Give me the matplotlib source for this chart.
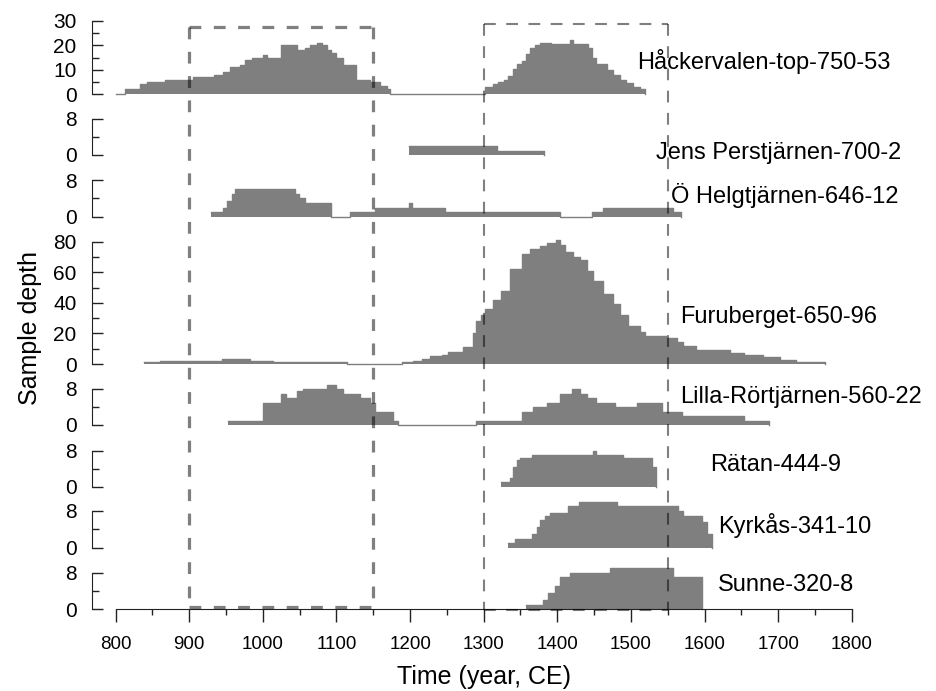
import matplotlib.pyplot as plt
from matplotlib.ticker import MultipleLocator

plt.rcParams['font.family'] = ['Liberation Sans', 'DejaVu Sans']
plt.rcParams['lines.scale_dashes'] = False

# Sample depth per site: step edges (year CE) and depth from that year on
site_names = ['Håckervalen-top-750-53', 'Jens Perstjärnen-700-2', 'Ö Helgtjärnen-646-12',
              'Furuberget-650-96', 'Lilla-Rörtjärnen-560-22', 'Rätan-444-9',
              'Kyrkås-341-10', 'Sunne-320-8']

hack_yr = [800, 812, 833, 842, 867, 905, 933, 946, 955, 969, 976, 985, 1000, 1005, 1025,
           1046, 1057, 1064, 1073, 1080, 1087, 1093, 1100, 1109, 1127, 1145, 1159, 1168,
           1173, 1302, 1313, 1320, 1327, 1333, 1340, 1345, 1352, 1358, 1363, 1370, 1376,
           1392, 1417, 1422, 1442, 1447, 1453, 1467, 1476, 1485, 1494, 1503, 1512, 1519]
hack_val = [0.3, 2, 4, 5, 6, 7, 8, 9, 11, 12, 14, 15, 16, 15, 20, 18, 19, 20, 21, 20, 18,
            17, 15, 12, 6, 5, 3.5, 2, 0, 3, 4, 5, 6, 7.5, 10.5, 12.5, 13.5, 16.5, 19, 20,
            21, 20.5, 22, 20.5, 19, 15, 12.5, 10, 8, 6, 4.5, 3, 2, 0]

jens_yr = [1198, 1318, 1382]
jens_val = [2, 1, 0]

helg_yr = [930, 946, 951, 958, 962, 1044, 1049, 1057, 1093, 1118, 1152, 1198, 1203, 1247,
           1404, 1447, 1462, 1557, 1568]
helg_val = [1, 2, 3.5, 5, 6, 5, 4, 3, 0, 1, 2, 3, 2, 1, 0, 1, 2, 1, 0]

furu_yr = [838, 860, 944, 982, 1014, 1114, 1189, 1204, 1216, 1227, 1243, 1252, 1272, 1286,
           1290, 1297, 1302, 1313, 1324, 1336, 1352, 1363, 1376, 1386, 1398, 1404, 1410,
           1422, 1431, 1440, 1449, 1462, 1476, 1485, 1496, 1512, 1519, 1548, 1562, 1571,
           1589, 1635, 1653, 1680, 1703, 1725, 1764]
furu_val = [1, 2, 3, 2, 1, 0, 1, 2, 3.5, 5, 6, 8, 11, 20, 28, 32, 36, 42, 48, 62, 72, 75,
            77, 79, 81, 78, 73, 70, 68, 61, 54, 46, 39, 32, 25, 21, 18, 17, 14.5, 12, 9,
            7.5, 6, 4.5, 2.5, 1, 0]

lilla_yr = [953, 1000, 1025, 1032, 1046, 1055, 1087, 1100, 1109, 1132, 1145, 1152, 1177,
            1184, 1290, 1352, 1367, 1386, 1404, 1420, 1431, 1440, 1453, 1478, 1508, 1542,
            1569, 1653, 1687]
lilla_val = [1, 5, 7, 6, 7.5, 8, 9, 8, 7, 6, 5, 3, 1, 0, 1, 3, 4, 5, 7, 8, 7, 6, 5, 4, 5,
             3, 2, 1, 0]

ratan_yr = [1324, 1336, 1340, 1345, 1349, 1365, 1449, 1453, 1489, 1528, 1534]
ratan_val = [1, 2, 4.5, 6, 6.5, 7, 8, 7, 6.5, 4.5, 0]

kyrk_yr = [1333, 1342, 1365, 1372, 1376, 1383, 1390, 1415, 1429, 1481, 1564, 1571, 1596,
           1604, 1610]
kyrk_val = [1, 2, 3, 4.5, 6, 7, 7.5, 9, 10, 9, 8, 7, 5.5, 3, 0]

sunne_yr = [1358, 1381, 1388, 1397, 1404, 1417, 1471, 1557, 1596]
sunne_val = [1, 2, 3.5, 5, 7, 8, 9, 7, 0]

site_years = [hack_yr, jens_yr, helg_yr, furu_yr, lilla_yr, ratan_yr, kyrk_yr, sunne_yr]
site_depths = [hack_val, jens_val, helg_val, furu_val, lilla_val, ratan_val, kyrk_val, sunne_val]
y_max = [30, 8, 8, 80, 8, 8, 8, 8]
y_major = [10, 8, 8, 20, 8, 8, 8, 8]

# periods highlighted by dashed boxes
box_periods = [(900, 1150), (1300, 1550)]

# ---- layout (pixels) ----
W, H = 936, 691
panel_px = [(20.7, 94.3), (119, 155), (180, 216.7), (241.7, 364), (389, 425),
            (451, 486.7), (511, 547.7), (572.7, 609.3)]
label_px = [(637, 62), (656, 153), (671, 195), (680, 317), (680, 397), (710, 465),
            (718, 525), (718, 585)]
ax_l, ax_r = 91.7, 851.7
x_lo = 800 - (115.7 - ax_l) / 0.736
gray = '#7f7f7f'

fig = plt.figure(figsize=(W / 100, H / 100), dpi=100)

axes = []
for i in range(8):
    top, zero = panel_px[i]
    ax = fig.add_axes([ax_l / W, 1 - zero / H, (ax_r - ax_l) / W, (zero - top) / H])
    ax.patch.set_visible(False)
    ax.set_xlim(x_lo, 1800)
    ax.set_ylim(0, y_max[i])
    ax.fill_between(site_years[i], site_depths[i], step='post', color=gray, lw=0,
                    clip_on=False)
    ax.step(site_years[i], site_depths[i], where='post', color=gray, lw=1, clip_on=False)

    for s in ['top', 'right', 'bottom']:
        ax.spines[s].set_visible(False)
    ax.spines['left'].set_bounds(0, y_max[i])
    ax.spines['left'].set_color('#222222')
    ax.yaxis.set_major_locator(MultipleLocator(y_major[i]))
    ax.yaxis.set_minor_locator(MultipleLocator(y_major[i] / 2))
    ax.tick_params(axis='y', which='major', direction='in', length=8, width=1,
                   labelsize=15, pad=11, color='#222222')
    ax.tick_params(axis='y', which='minor', direction='in', length=4.8, width=1,
                   color='#222222')
    ax.tick_params(axis='x', which='both', bottom=False, labelbottom=False)

    fig.text(label_px[i][0] / W, 1 - label_px[i][1] / H, site_names[i], fontsize=17,
             ha='left', va='center')
    axes.append(ax)

# bottom time axis
axb = axes[-1]
axb.spines['bottom'].set_visible(True)
axb.spines['bottom'].set_bounds(800, 1800)
axb.spines['bottom'].set_color('#222222')
axb.xaxis.set_major_locator(MultipleLocator(100))
axb.xaxis.set_minor_locator(MultipleLocator(50))
axb.set_xticks(range(800, 1801, 100))
axb.tick_params(axis='x', which='major', bottom=True, labelbottom=True, direction='out',
                length=9.4, width=1, labelsize=13.5, pad=10, color='#222222')
axb.tick_params(axis='x', which='minor', bottom=True, direction='out', length=4.2,
                width=1, color='#222222')

fig.text(30 / W, 1 - 328 / H, 'Sample depth', rotation=90, fontsize=18,
         ha='center', va='center')
fig.text(483.7 / W, 1 - 677 / H, 'Time (year, CE)', fontsize=18, ha='center', va='center')

# dashed boxes across all panels (y in pixel rows)
ov = fig.add_axes([ax_l / W, 0, (ax_r - ax_l) / W, 1], zorder=5)
ov.patch.set_visible(False)
ov.axis('off')
ov.set_xlim(x_lo, 1800)
ov.set_ylim(H, 0)
box_rows = [(27, 607), (24, 609.5)]
box_lw = [2.3, 1.5]
box_dash = [(8.5, 9), (8.5, 7.5)]
for (x0, x1), (yt, yb), lw, dsh in zip(box_periods, box_rows, box_lw, box_dash):
    for xs, ys in [([x0, x1], [yt, yt]), ([x0, x0], [yt, yb]),
                   ([x1, x1], [yt, yb]), ([x0, x1], [yb, yb])]:
        ov.plot(xs, ys, color='k', alpha=0.5, lw=lw, dashes=dsh, clip_on=False)

fig.savefig('out.png', dpi=100)
